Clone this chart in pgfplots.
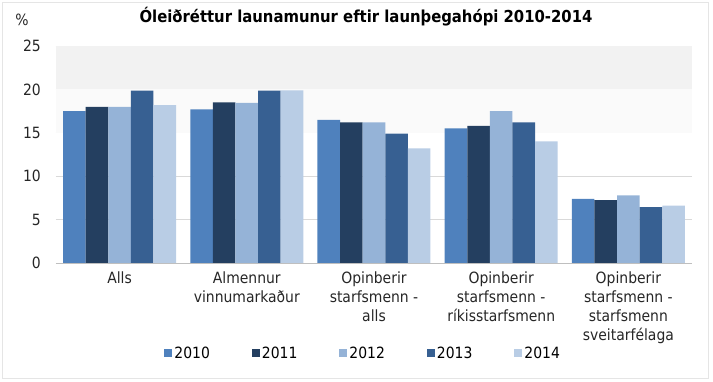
\documentclass[border=0pt]{standalone}
\usepackage{pgfplots}
\pgfplotsset{compat=1.18}
\usepackage{fontspec}
\setmainfont{DejaVu Sans Condensed}
\definecolor{cA}{HTML}{4F81BD}
\definecolor{cB}{HTML}{243F60}
\definecolor{cC}{HTML}{95B3D7}
\definecolor{cD}{HTML}{376092}
\definecolor{cE}{HTML}{B9CDE5}
\definecolor{gridc}{HTML}{D9D9D9}
\begin{document}
\begin{tikzpicture}
\path[use as bounding box] (-56pt,-119pt) rectangle (657pt,263pt);
\draw[black!10, line width=0.8pt] (-54pt,-115pt) rectangle (652pt,261pt);
\begin{axis}[
  at={(0pt,0pt)}, anchor=south west,
  scale only axis, width=636pt, height=217pt,
  ybar=0pt, bar width=22.6pt,
  xmin=-0.5, xmax=4.5, ymin=0, ymax=25,
  ytick={0,5,10,15,20,25},
  xtick={0,1,2,3,4},
  xticklabels={Alls, Almennur\\vinnumarkaður, Opinberir\\starfsmenn -\\alls, Opinberir\\starfsmenn -\\ríkisstarfsmenn, Opinberir\\starfsmenn -\\starfsmenn\\sveitarfélaga},
  major tick length=0pt,
  axis x line=bottom, axis y line=left,
  x axis line style={draw=black!25, -},
  y axis line style={draw=none},
  ymajorgrids, grid style={gridc, line width=0.8pt},
  /pgf/number format/assume math mode=true,
  tick label style={font=\fontsize{15.5}{19}\selectfont, text=black!85},
  yticklabel style={inner sep=0pt, xshift=-15pt},
  xticklabel style={align=center, inner sep=0pt, yshift=-9pt},
  legend columns=5,
  legend style={at={(0.483,-0.415)}, anchor=center, draw=none, fill=none,
    font=\fontsize{15.5}{19}\selectfont,
    /tikz/every even column/.append style={column sep=40pt}},
  legend image code/.code={\fill[#1] (0pt,-4pt) rectangle (8pt,4pt);},
]
\fill[black!5] (axis cs:-0.5,20) rectangle (axis cs:4.5,25);
\fill[black!2] (axis cs:-0.5,15) rectangle (axis cs:4.5,20);
\addplot[fill=cA, draw=none] coordinates {(0,17.5) (1,17.7) (2,16.5) (3,15.5) (4,7.4)};
\addplot[fill=cB, draw=none] coordinates {(0,18.0) (1,18.5) (2,16.2) (3,15.8) (4,7.25)};
\addplot[fill=cC, draw=none] coordinates {(0,18.0) (1,18.45) (2,16.2) (3,17.5) (4,7.8)};
\addplot[fill=cD, draw=none] coordinates {(0,19.85) (1,19.85) (2,14.9) (3,16.2) (4,6.45)};
\addplot[fill=cE, draw=none] coordinates {(0,18.2) (1,19.9) (2,13.2) (3,14.0) (4,6.6)};
\legend{2010,2011,2012,2013,2014}
\end{axis}
\node[font=\fontsize{16.5}{19}\selectfont\bfseries] at (310pt,246pt) {Óleiðréttur launamunur eftir launþegahópi 2010-2014};
\node[font=\fontsize{15.5}{19}\selectfont, text=black!85] at (-34pt,243pt) {\%};
\end{tikzpicture}
\end{document}
